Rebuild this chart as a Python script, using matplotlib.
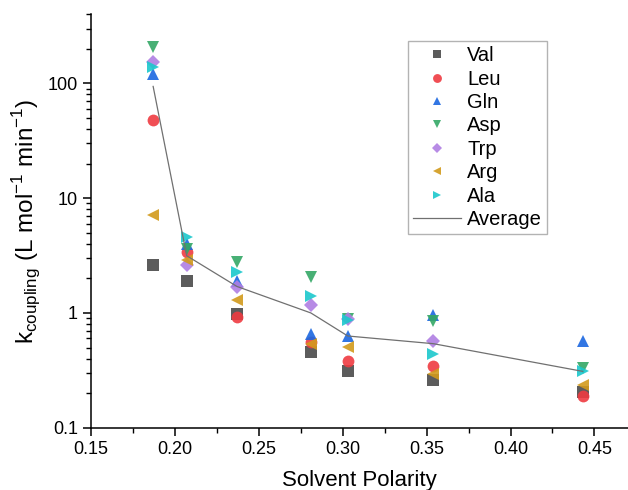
import matplotlib
import numpy as np

matplotlib.use("Agg")
import matplotlib.pyplot as plt

plt.rcParams["font.family"] = ["Liberation Sans", "DejaVu Sans"]

polarity = [0.187, 0.207, 0.237, 0.281, 0.303, 0.354, 0.443]

val = [2.6, 1.9, 0.98, 0.46, 0.31, 0.26, 0.206]
leu = [47.7, 3.4, 0.92, 0.56, 0.38, 0.345, 0.19]
gln = [120, 4.0, 1.9, 0.66, 0.63, 0.96, 0.57]
asp = [206, 3.6, 2.78, 2.06, 0.88, 0.85, 0.33]
trp = [152, 2.6, 1.68, 1.17, 0.89, 0.57, np.nan]
arg = [7.1, 2.9, 1.30, 0.54, 0.51, 0.295, 0.237]
ala = [138, 4.6, 2.27, 1.41, 0.86, 0.44, 0.31]
average = [94, 3.15, 1.70, 1.0, 0.63, 0.54, 0.31]

series = [
    ("Val", val, "s", "#4a4a4a"),
    ("Leu", leu, "o", "#ef3b41"),
    ("Gln", gln, "^", "#1c67e0"),
    ("Asp", asp, "v", "#34a866"),
    ("Trp", trp, "D", "#b07ee3"),
    ("Arg", arg, "<", "#d29a1c"),
    ("Ala", ala, ">", "#1cc8cc"),
]

fig = plt.figure(figsize=(6.28, 4.9), dpi=100)
ax = fig.add_axes([0.145, 0.127, 0.855, 0.844])

for name, values, marker, color in series:
    ms = 7 if marker == "D" else 8.5
    ax.plot(polarity, values, linestyle="none", marker=marker, markersize=ms,
            color=color, markeredgewidth=0, alpha=0.9, label=name)
ax.plot(polarity, average, color="#707070", linewidth=0.9, label="Average")

ax.set_yscale("log")
ax.set_ylim(0.1, 400)
ax.set_xlim(0.15, 0.47)
ax.set_xticks([0.15, 0.20, 0.25, 0.30, 0.35, 0.40, 0.45])
ax.set_xticks(np.arange(0.175, 0.47, 0.05), minor=True)
ax.set_yticks([0.1, 1, 10, 100])
ax.set_yticklabels(["0.1", "1", "10", "100"])
ax.tick_params(axis="both", which="major", direction="out", length=6, width=1.1, labelsize=13)
ax.tick_params(axis="both", which="minor", direction="out", length=3.5, width=1.0)
ax.spines["top"].set_visible(False)
ax.spines["right"].set_visible(False)
for side in ["left", "bottom"]:
    ax.spines[side].set_linewidth(1.1)

ax.set_xlabel("Solvent Polarity", fontsize=16, labelpad=9)
ax.set_ylabel(r"k$_{\mathregular{coupling}}$ (L mol$^{\mathregular{-1}}$ min$^{\mathregular{-1}}$)",
              fontsize=17.5, labelpad=3)

leg = ax.legend(loc="upper left", bbox_to_anchor=(0.59, 0.935), fontsize=14.5,
                frameon=True, fancybox=False, edgecolor="#a0a0a0",
                handlelength=2.4, handletextpad=0.3, labelspacing=0.22,
                borderpad=0.25, borderaxespad=0, markerscale=0.75)
leg.get_frame().set_linewidth(1.0)

fig.savefig("out.png", dpi=100)
